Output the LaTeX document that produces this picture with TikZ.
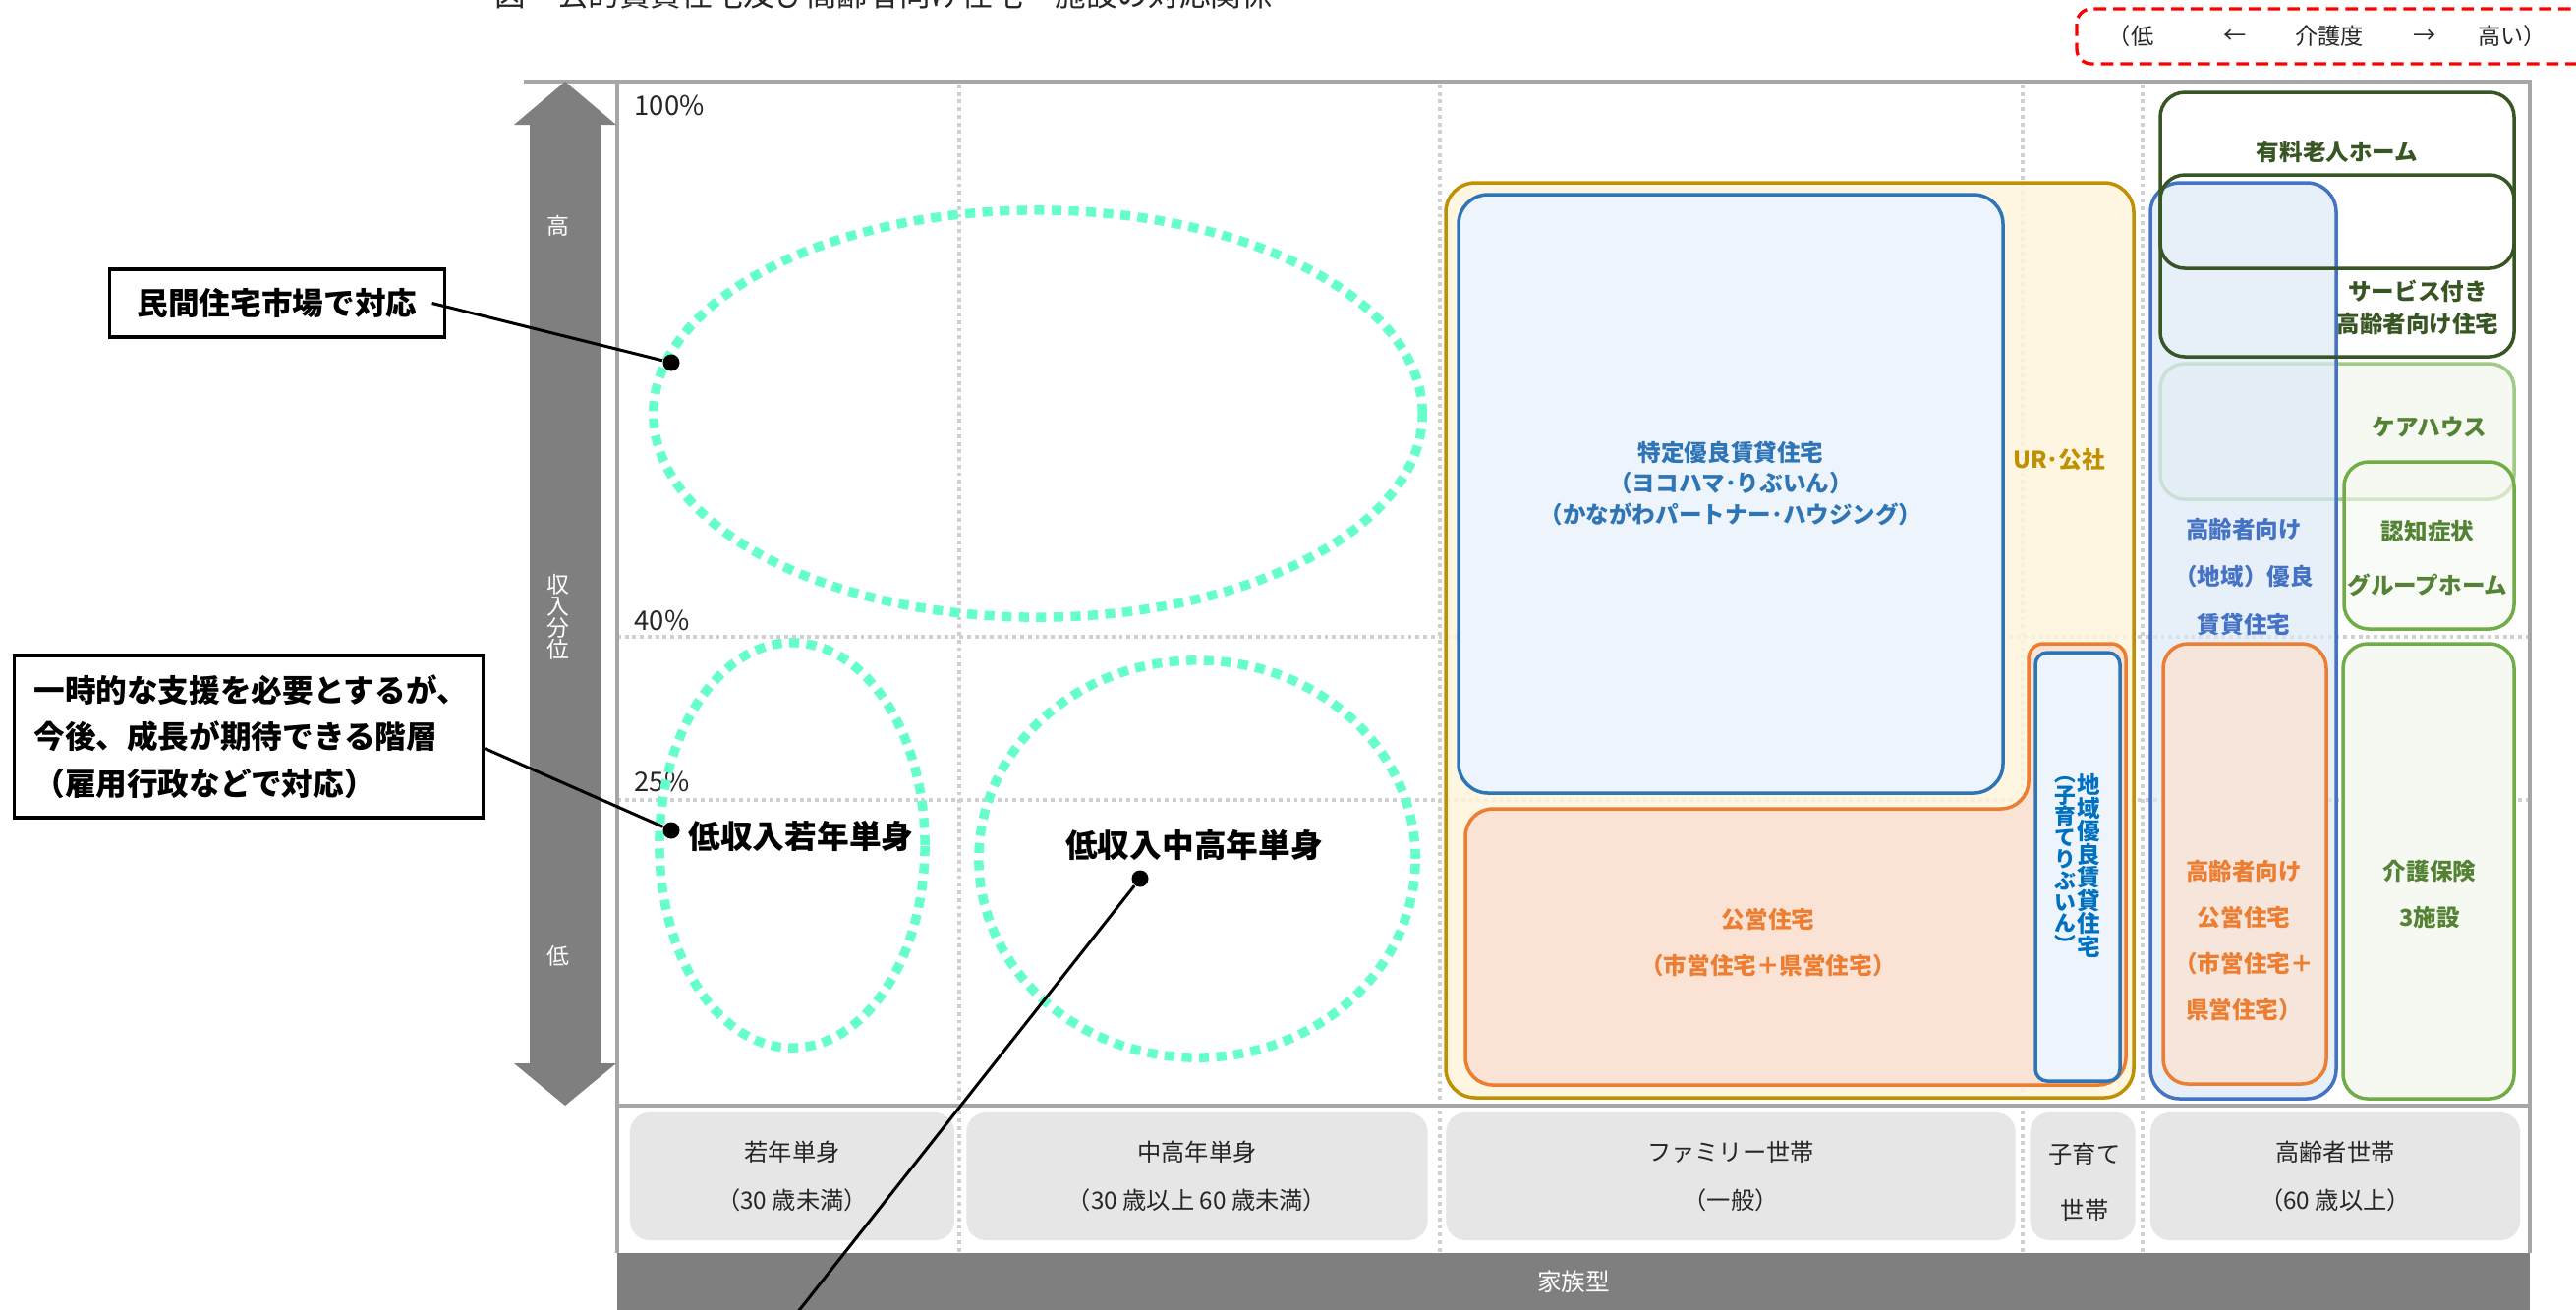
\documentclass[tikz,border=0pt]{standalone}
\usepackage{fontspec}
\setmainfont{Noto Sans CJK JP}
\definecolor{gridc}{HTML}{D0D0D0}
\definecolor{framec}{HTML}{A6A6A6}
\definecolor{arrowc}{HTML}{7F7F7F}
\definecolor{aqua}{HTML}{66FFCC}
\definecolor{urc}{HTML}{BF9000}
\definecolor{urfill}{HTML}{FFF5DE}
\definecolor{blc}{HTML}{2E75B6}
\definecolor{bltext}{HTML}{0070C0}
\definecolor{blfill}{HTML}{EEF4FB}
\definecolor{orc}{HTML}{ED7D31}
\definecolor{orfill}{HTML}{FAE3D5}
\definecolor{orfilltwo}{HTML}{F5E5DA}
\definecolor{dgc}{HTML}{375623}
\definecolor{lgc}{HTML}{70AD47}
\definecolor{lgtext}{HTML}{548235}
\definecolor{lgfill}{HTML}{F5F9F1}
\definecolor{eblc}{HTML}{4472C4}
\definecolor{ebfill}{HTML}{DDEAF7}
\definecolor{catfill}{HTML}{E6E6E6}
\definecolor{txtc}{HTML}{262626}
\begin{document}
\begin{tikzpicture}[x=0.01cm,y=-0.01cm,
  grid/.style={draw=gridc, line width=0.9pt, dash pattern=on 1.1pt off 1.1pt},
  ell/.style={draw=aqua, line width=2.7pt, dash pattern=on 2.9pt off 2.1pt},
  boxline/.style={line width=1pt},
  lbl/.style={inner sep=0pt, align=center, font=\fontsize{6.7}{13.4}\selectfont\bfseries},
  cattxt/.style={align=center, text=txtc, font=\fontsize{6.9}{14}\selectfont},
  catbox/.style={fill=catfill, rounded corners=0.2cm, minimum height=1.30cm, inner sep=0pt},
  callout/.style={draw=black, line width=0.9pt, fill=white, font=\fontsize{9}{13.5}\selectfont\bfseries},
  dot/.style={circle, fill=black, inner sep=0pt, minimum size=0.17cm},
  conn/.style={draw=black, line width=0.85pt},
  pct/.style={anchor=west, inner sep=0pt, text=txtc, font=\fontsize{7.8}{8}\selectfont},
  white lbl/.style={inner sep=0pt, align=center, text=white, font=\fontsize{6.5}{6.3}\selectfont},
  redtxt/.style={inner sep=0pt, text=txtc, font=\fontsize{6.6}{7}\selectfont}
]
\clip (0,0) rectangle (2621,1332);
\fill[white] (0,0) rectangle (2621,1332);

% title (cut off at the top, as in the reference)
\node[anchor=base west, inner sep=0pt, font=\fontsize{9}{9}\selectfont, text=black!85] (title) at (503,6) {図　公的賃貸住宅及び高齢者向け住宅・施設の対応関係};

% care level legend
\draw[red, line width=0.95pt, dash pattern=on 3.6pt off 2pt, rounded corners=0.15cm] (2113,9) rectangle (2680,65);
\node[redtxt] (r1) at (2168,37) {（低};
\node[redtxt] (r2) at (2274,37) {←};
\node[redtxt] (r3) at (2370,37) {介護度};
\node[redtxt] (r4) at (2467,37) {→};
\node[redtxt] (r5) at (2556,37) {高い）};

% grid
\foreach \gx in {976,1465,2058,2180} \draw[grid] (\gx,86) -- (\gx,1275);
\draw[grid] (628,648) -- (2574,648);
\draw[grid] (628,814) -- (2574,814);

% frame
\draw[framec, line width=0.9pt] (533,83) -- (2574,83) -- (2574,1275);
\draw[framec, line width=0.9pt] (628,83) -- (628,1275);
\draw[framec, line width=1.3pt] (628,1125) -- (2574,1125);

% income axis arrow
\fill[arrowc] (575,83) -- (627,127) -- (611,127) -- (611,1082) -- (627,1082) -- (575,1125)
  -- (523,1082) -- (539,1082) -- (539,127) -- (523,127) -- cycle;
\node[white lbl] (ahi) at (568,230) {高};
\node[white lbl] (amid) at (568,628) {収\\入\\分\\位};
\node[white lbl] (alo) at (568,973) {低};

% percent labels
\node[pct] (p100) at (645,107) {100\%};
\node[pct] (p40) at (645,631) {40\%};
\node[pct] (p25) at (645,795) {25\%};

% target groups
\draw[ell] (1056,421) ellipse [x radius=3.91cm, y radius=2.07cm];
\draw[ell] (806,860) ellipse [x radius=1.35cm, y radius=2.06cm];
\draw[ell] (1218,874) ellipse [x radius=2.22cm, y radius=2.02cm];
\node[inner sep=0pt, font=\fontsize{9.3}{10}\selectfont\bfseries] (l2) at (815,851) {低収入若年単身};
\node[inner sep=0pt, font=\fontsize{9.3}{10}\selectfont\bfseries] (l3) at (1215,860) {低収入中高年単身};

% family housing
\draw[urc, boxline, fill=urfill, fill opacity=0.85, rounded corners=0.3cm] (1471,186) rectangle (2171,1117);
\draw[blc, boxline, fill=blfill, rounded corners=0.3cm] (1484,198) rectangle (2038,807);
\draw[orc, boxline, fill=orfill] (1491,1000) [rounded corners=0.28cm] -- (1491,823) -- (2064,823)
  [sharp corners] -- (2064,700) [rounded corners=0.15cm] -- (2064,655) -- (2163,655) -- (2163,1000)
  [rounded corners=0.28cm] -- (2163,1104) -- (1491,1104) -- cycle;
\draw[blc, boxline, fill=blfill, rounded corners=0.12cm] (2071,664) rectangle (2157,1100);

\node[lbl, text=blc, font=\fontsize{6.7}{9}\selectfont\bfseries] (tok) at (1761,492)
  {特定優良賃貸住宅\\（ヨコハマ･りぶいん）\\（かながわパートナー･ハウジング）};
\node[lbl, text=urc] (ur) at (2095,468) {UR･公社};
\node[lbl, text=orc] (kou) at (1799,959) {公営住宅\\（市営住宅＋県営住宅）};
\node[lbl, text=bltext, font=\fontsize{6.7}{6.7}\selectfont\bfseries] (chi) at (2125,881)
  {地\\域\\優\\良\\賃\\貸\\住\\宅};
\node[lbl, text=bltext, font=\fontsize{6.2}{6.2}\selectfont\bfseries] (kos) at (2101,880)
  {︵\\子\\育\\て\\り\\ぶ\\い\\ん\\︶};

% elderly housing
\draw[lgc!65, boxline, fill=lgfill, rounded corners=0.25cm] (2198,370) rectangle (2558,508);
\draw[lgc, boxline, fill=lgfill, fill opacity=0.6, rounded corners=0.25cm] (2385,470) rectangle (2558,640);
\draw[lgc, boxline, fill=lgfill, rounded corners=0.25cm] (2384,655) rectangle (2558,1118);
\draw[eblc, boxline, fill=ebfill, fill opacity=0.7, rounded corners=0.3cm] (2188,186) rectangle (2377,1118);
\draw[orc, boxline, fill=orfilltwo, rounded corners=0.25cm] (2201,655) rectangle (2367,1103);
\draw[dgc, boxline, rounded corners=0.25cm] (2198,94) rectangle (2558,273);
\draw[dgc, boxline, rounded corners=0.25cm] (2198,178) rectangle (2558,363);

\node[lbl, text=dgc] (yur) at (2378,155) {有料老人ホーム};
\node[lbl, text=dgc, font=\fontsize{6.7}{9.4}\selectfont\bfseries] (sak) at (2460,313) {サービス付き\\高齢者向け住宅};
\node[lbl, text=lgtext] (care) at (2472,435) {ケアハウス};
\node[lbl, text=lgtext, font=\fontsize{6.7}{15.4}\selectfont\bfseries] (gh) at (2470,568) {認知症状\\グループホーム};
\node[lbl, text=eblc, font=\fontsize{6.7}{13.7}\selectfont\bfseries] (eyu) at (2283,587) {高齢者向け\\（地域）優良\\賃貸住宅};
\node[lbl, text=orc] (eko) at (2283,957) {高齢者向け\\公営住宅\\（市営住宅＋\\県営住宅）};
\node[lbl, text=lgtext] (kai) at (2472,910) {介護保険\\3施設};

% household categories
\node[catbox, minimum width=3.30cm] (cat1) at (806,1197) {};
\node[catbox, minimum width=4.69cm] (cat2) at (1218,1197) {};
\node[catbox, minimum width=5.79cm] (cat3) at (1761,1197) {};
\node[catbox, minimum width=1.07cm] (cat4) at (2119,1197) {};
\node[catbox, minimum width=3.76cm] (cat5) at (2376,1197) {};
\node[cattxt] (t1) at (cat1) {若年単身\\（30 歳未満）};
\node[cattxt] (t2) at (cat2) {中高年単身\\（30 歳以上 60 歳未満）};
\node[cattxt] (t3) at (cat3) {ファミリー世帯\\（一般）};
\node[cattxt, font=\fontsize{6.9}{16.3}\selectfont] (t4) at (2121,1203) {子育て\\世帯};
\node[cattxt] (t5) at (cat5) {高齢者世帯\\（60 歳以上）};

\fill[arrowc] (628,1275) rectangle (2574,1345);
\node[white lbl, font=\fontsize{7}{7}\selectfont] (fam) at (1601,1304) {家族型};

% callouts
\node[dot] (d1) at (683,369) {};
\node[dot] (d2) at (683,845) {};
\node[dot] (d3) at (1160,894) {};
\node[callout, minimum width=3.40cm, minimum height=0.69cm, inner sep=0pt] (c1) at (282,308.5) {民間住宅市場で対応};
\node[callout, text width=4.37cm, inner xsep=0.2cm, minimum height=1.65cm, align=left] (c2) at (253,749.5)
  {一時的な支援を必要とするが、\\今後、成長が期待できる階層\\（雇用行政などで対応）};
\coordinate (e3) at (792,1360);
\draw[conn] ([xshift=-0.14cm]c1.east) -- (d1);
\draw[conn] ([yshift=-0.12cm]c2.east) -- (d2);
\draw[conn] (d3) -- (e3);
\end{tikzpicture}
\end{document}
